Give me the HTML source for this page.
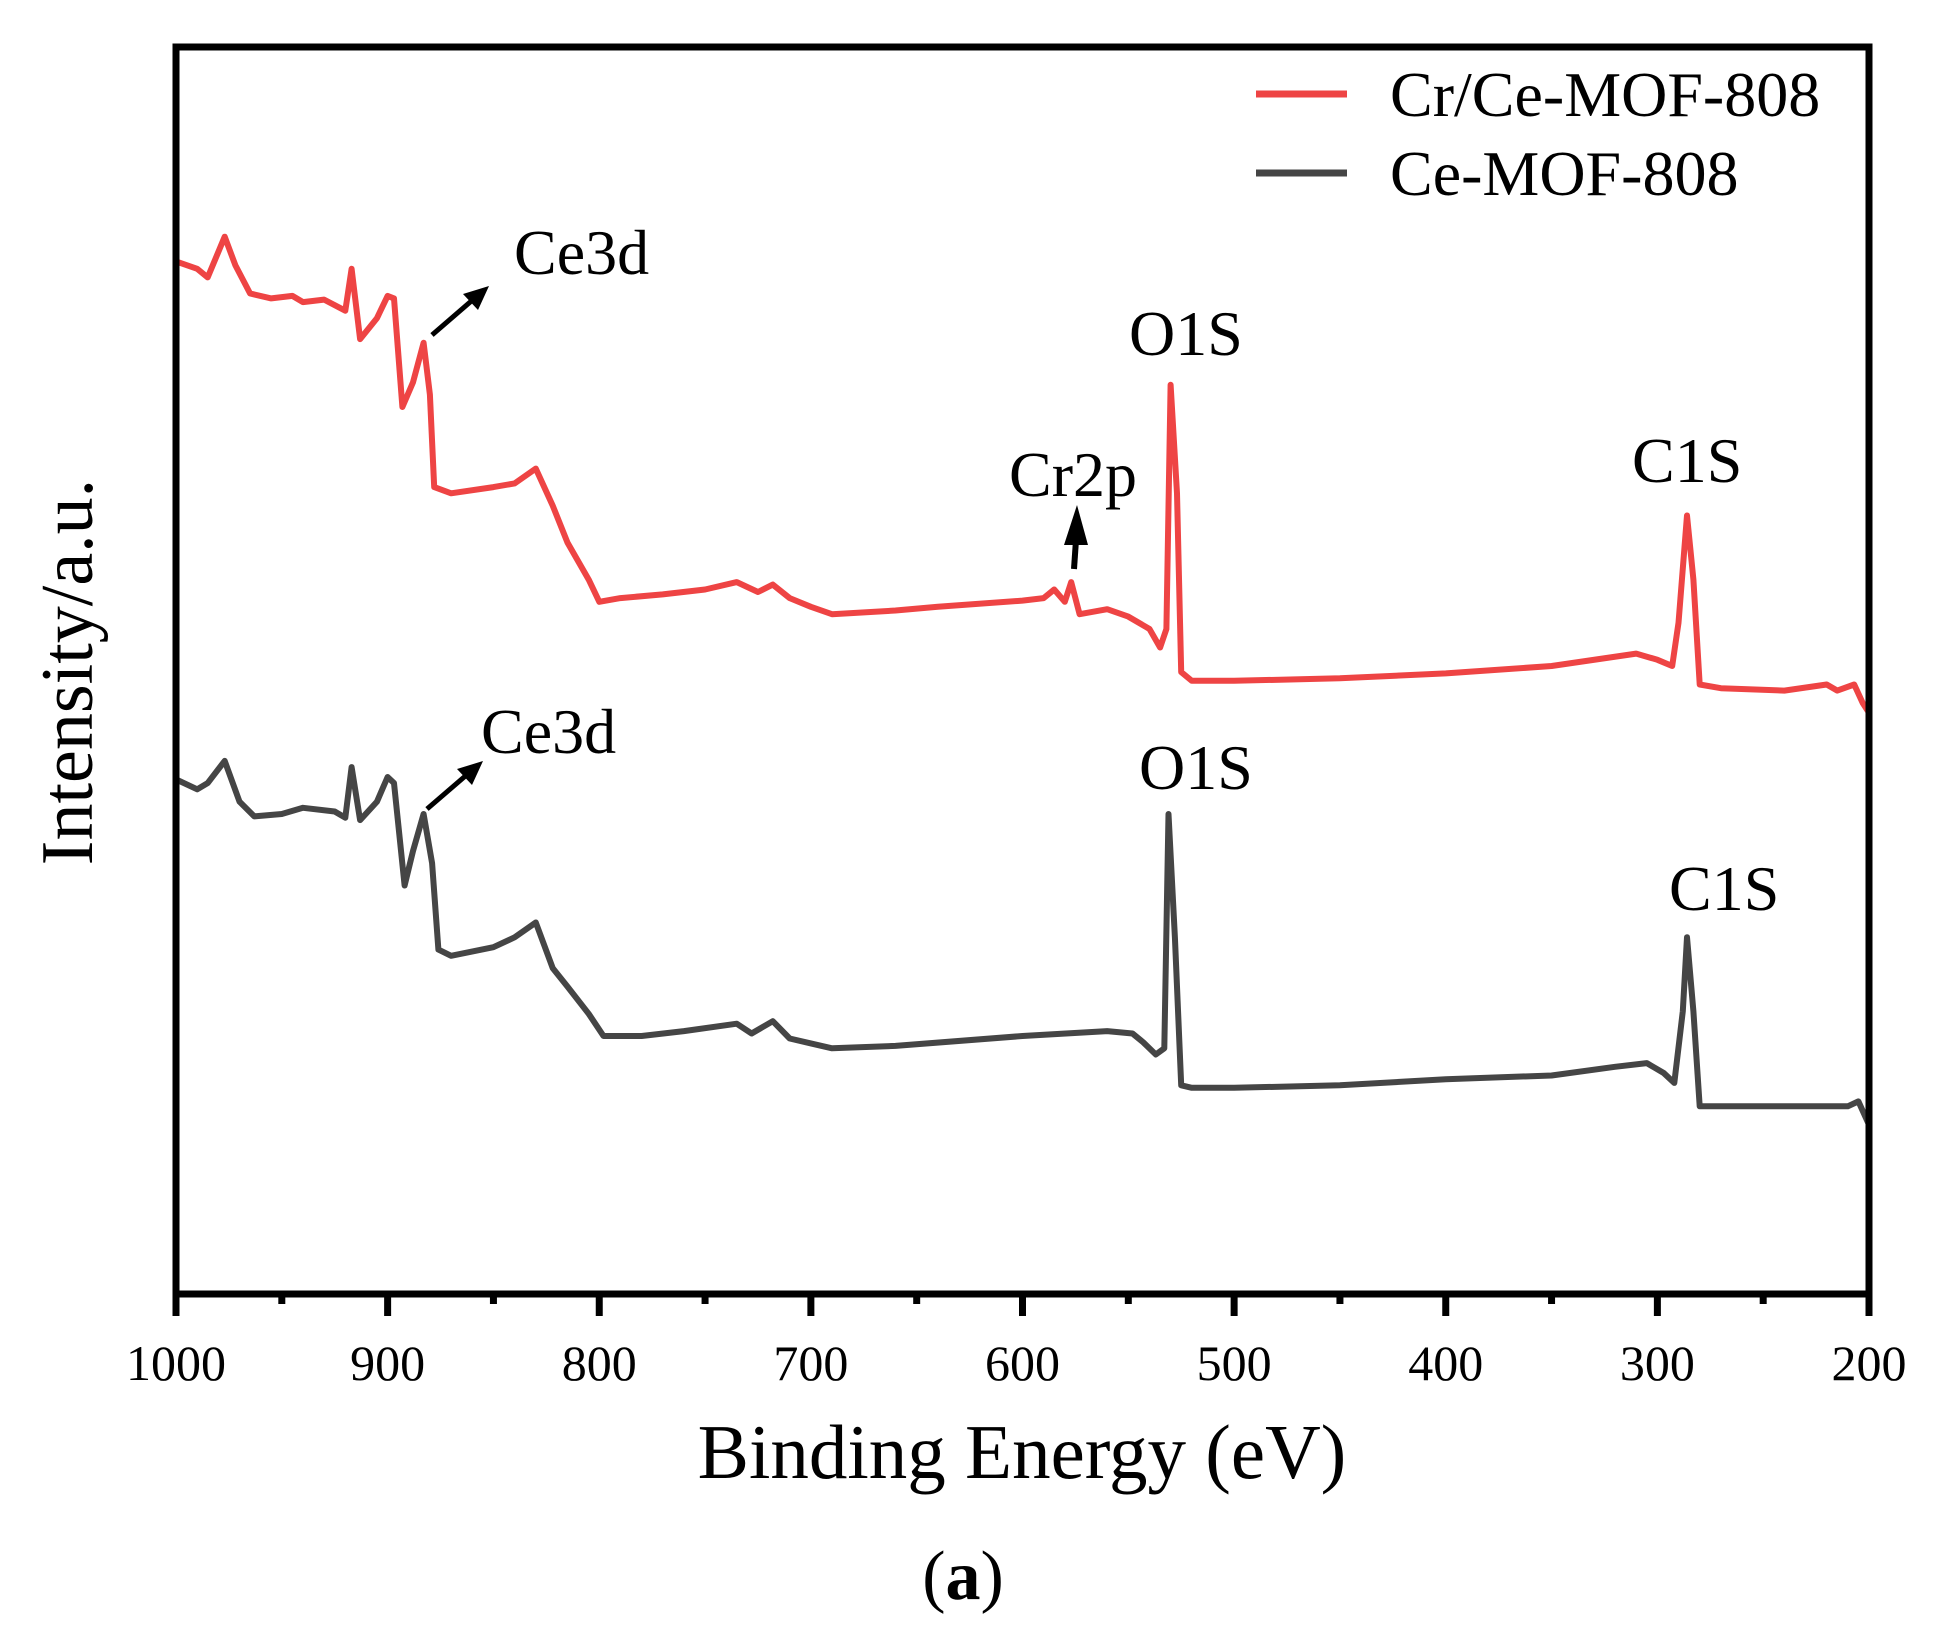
<!DOCTYPE html>
<html><head><meta charset="utf-8"><style>
html,body{margin:0;padding:0;background:#fff}
svg{display:block}
text{font-family:"Liberation Serif",serif;fill:#000}
</style></head><body>
<svg id="chart" width="1934" height="1645" viewBox="0 0 1934 1645" xmlns="http://www.w3.org/2000/svg">
<g id="ticks"></g>
<g id="series"></g>
<rect x="176" y="47" width="1693" height="1247" fill="none" stroke="#000" stroke-width="7"/>
<g>
<line x1="1256" y1="94" x2="1347" y2="94" stroke="#ee4444" stroke-width="7"/>
<text x="1390" y="116" font-size="64">Cr/Ce-MOF-808</text>
<line x1="1256" y1="173" x2="1347" y2="173" stroke="#454545" stroke-width="7"/>
<text x="1390" y="195" font-size="64">Ce-MOF-808</text>
</g>
<g>
<text x="514" y="274" font-size="64">Ce3d</text>
<text x="481" y="753" font-size="64">Ce3d</text>
<text x="1129" y="355" font-size="64">O1S</text>
<text x="1139" y="789" font-size="64">O1S</text>
<text x="1009" y="496" font-size="64">Cr2p</text>
<text x="1632" y="482" font-size="64">C1S</text>
<text x="1669" y="910" font-size="64">C1S</text>
<g><line x1="432" y1="335" x2="476" y2="297" stroke="#000" stroke-width="5"/><polygon points="489,286 463,294 478,310" fill="#000"/></g>
<g><line x1="427" y1="809" x2="470" y2="772" stroke="#000" stroke-width="5"/><polygon points="483,761 457,769 472,785" fill="#000"/></g>
<g><line x1="1074" y1="569" x2="1076" y2="540" stroke="#000" stroke-width="6"/><polygon points="1077,505 1064,545 1088,545" fill="#000"/></g>
</g>
<text transform="translate(92,672) rotate(-90)" text-anchor="middle" font-size="74">Intensity/a.u.</text>
<text x="1022" y="1478" text-anchor="middle" font-size="77">Binding Energy (eV)</text>
<text x="963" y="1599" text-anchor="middle" font-size="70">(<tspan font-weight="bold">a</tspan>)</text>
</svg>
<script>
const xTicks = [1000, 900, 800, 700, 600, 500, 400, 300, 200];
const xMinorTicks = [950, 850, 750, 650, 550, 450, 350, 250];
const crEnergy = [1000,990,985,977,972,965,955,945,940,930,920,917,913,905,900,897,893,888,883,880,878,870,850,840,830,822,815,805,800,790,770,750,735,725,718,710,700,690,660,640,600,590,585,580,577,573,560,550,540,535,532,530,527,525,520,500,450,400,350,310,300,293,290,286,283,280,270,240,220,215,207,203,200];
const crIntensity = [838,832,825,858,835,812,808,810,805,807,798,832,775,792,810,808,720,740,772,730,655,650,655,658,670,640,610,580,562,565,568,572,578,570,576,565,558,552,555,558,563,565,572,562,578,552,556,550,540,525,540,738,650,505,498,498,500,504,510,520,515,510,545,632,580,495,492,490,495,490,495,480,472];
const ceEnergy = [1000,990,985,977,970,963,950,940,925,920,917,913,905,900,897,892,888,883,879,876,870,850,840,830,822,815,805,798,780,760,735,728,718,710,700,690,660,600,560,548,543,537,533,531,528,525,520,500,450,400,350,320,305,297,292,288,286,283,280,270,220,210,205,200];
const ceIntensity = [418,410,415,433,400,388,390,395,392,387,428,385,400,420,415,332,360,390,350,280,275,282,290,302,265,250,228,210,210,214,220,212,222,208,204,200,202,210,214,212,205,195,200,390,290,170,168,168,170,175,178,185,188,180,172,230,290,230,153,153,153,153,157,138];
const X0=176, X1=1869, YB=1294, S=1.2334;
function xs(e){return X0+(1000-e)/800*(X1-X0);}
function ys(v){return 1295 - v*S;}
const NS='http://www.w3.org/2000/svg';
const tg=document.getElementById('ticks');
xTicks.forEach(t=>{
  const l=document.createElementNS(NS,'line');
  
  
  l.setAttribute('x1',xs(t));l.setAttribute('x2',xs(t));l.setAttribute('y1',YB);l.setAttribute('y2',YB+22);
  l.setAttribute('stroke','#000');l.setAttribute('stroke-width','7');tg.appendChild(l);
  const tx=document.createElementNS(NS,'text');
  
  
  tx.setAttribute('x',xs(t));tx.setAttribute('y',1380);tx.setAttribute('text-anchor','middle');tx.setAttribute('font-size','50');
  tx.textContent=t;tg.appendChild(tx);
});
xMinorTicks.forEach(t=>{
  const l=document.createElementNS(NS,'line');
  
  
  l.setAttribute('x1',xs(t));l.setAttribute('x2',xs(t));l.setAttribute('y1',YB);l.setAttribute('y2',YB+10);
  l.setAttribute('stroke','#000');l.setAttribute('stroke-width','7');tg.appendChild(l);
});
const sg=document.getElementById('series');
function drawSeries(E,V,color,name){
  const p=document.createElementNS(NS,'polyline');
  
  
  p.setAttribute('points',E.map((e,i)=>xs(e).toFixed(1)+','+ys(V[i]).toFixed(1)).join(' '));
  p.setAttribute('fill','none');p.setAttribute('stroke',color);p.setAttribute('stroke-width','6');p.setAttribute('stroke-linejoin','round');
  sg.appendChild(p);
}
drawSeries(crEnergy,crIntensity,'#ee4444','series-cr-ce-mof-808');
drawSeries(ceEnergy,ceIntensity,'#454545','series-ce-mof-808');
</script>
</body></html>
